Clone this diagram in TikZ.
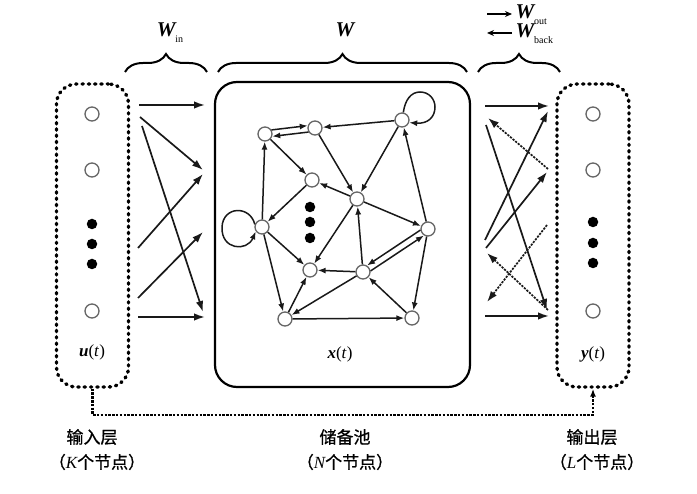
\documentclass[tikz,border=0pt]{standalone}
\usepackage{fontspec}
\setmainfont{Liberation Serif}
\newfontfamily\cjkfont[FakeBold=0.8]{Noto Sans CJK SC}
\usetikzlibrary{arrows.meta,decorations.pathreplacing}
\begin{document}
\begin{tikzpicture}[x=1pt,y=-1pt,
  arr/.style={-{Latex[length=8pt,width=6pt]},line width=1.5pt,draw=black!90},
  big/.style={-{Latex[length=11pt,width=7.5pt]},line width=1.7pt,draw=black!90},
  back/.style={big,dash pattern=on 2.2pt off 1.2pt},
  rnode/.style={circle,draw=black!60,line width=1.3pt,fill=white,minimum size=14pt,inner sep=0pt},
  dotn/.style={circle,fill=black,minimum size=10.5pt,inner sep=0pt},
  layerbox/.style={draw,line width=3.4pt,line cap=round,dash pattern=on 1.3pt off 5pt,rounded corners=20pt,minimum width=72pt,minimum height=303pt,inner sep=0pt},
  poolbox/.style={draw,line width=2.2pt,rounded corners=22pt,minimum width=255pt,minimum height=305pt,inner sep=0pt},
  bracestyle/.style={decorate,decoration={brace,amplitude=18pt},line width=2pt},
  fb/.style={-{Latex[length=8pt,width=6pt]},line width=2.2pt,dash pattern=on 2.5pt off 1.3pt},
  cjk/.style={font=\cjkfont\fontsize{17}{19}\selectfont},
  lab/.style={font=\fontsize{17}{20}\selectfont},
  wlab/.style={font=\fontsize{21}{24}\selectfont\bfseries\itshape},
  tinyarr/.style={-{Stealth[length=7pt,width=6pt]},line width=1.4pt},
]
\useasboundingbox (0,0) rectangle (697,494);

% layer boxes
\node[layerbox] (inbox) at (92.5,235.5) {};
\node[layerbox] (outbox) at (593,235.5) {};
\node[poolbox] (pool) at (342.5,234.5) {};

% input nodes
\node[rnode] (u1) at (92,114) {};
\node[rnode] (u2) at (92,170) {};
\node[dotn] (ud1) at (92,224) {};
\node[dotn] (ud2) at (92,244) {};
\node[dotn] (ud3) at (92,264) {};
\node[rnode] (u3) at (92,311) {};
\node[lab] (ul) at (92,352) {\textbf{\textit{u}}(\textit{t})};

% output nodes
\node[rnode] (y1) at (593,114) {};
\node[rnode] (y2) at (593,170) {};
\node[dotn] (yd1) at (593,222) {};
\node[dotn] (yd2) at (593,243) {};
\node[dotn] (yd3) at (593,263) {};
\node[rnode] (y3) at (593,311) {};
\node[lab] (yl) at (593,354) {\textbf{\textit{y}}(\textit{t})};

% reservoir nodes
\node[rnode] (A) at (265,134) {};
\node[rnode] (B) at (315,128) {};
\node[rnode] (C) at (402,120) {};
\node[rnode] (D) at (312,180) {};
\node[rnode] (E) at (357,199) {};
\node[rnode] (F) at (262,227) {};
\node[rnode] (G) at (428,229) {};
\node[rnode] (H) at (310,270) {};
\node[rnode] (I) at (363,272) {};
\node[rnode] (J) at (285,319) {};
\node[rnode] (K) at (412,318) {};
\node[dotn] (rd1) at (310,207) {};
\node[dotn] (rd2) at (310,222) {};
\node[dotn] (rd3) at (310,238) {};
\node[lab] (xl) at (340,354) {\textbf{\textit{x}}(\textit{t})};

% reservoir edges
\draw[arr] (A.32) -- (B.162);
\draw[arr] (B.212) -- (A.-18);
\draw[arr] (C) -- (B);
\draw[arr] (C.80) .. controls (405,100) and (411,92) .. (420,92)
                  .. controls (429,92) and (435,99) .. (435,107)
                  .. controls (435,117) and (428,124) .. (C.-20);
\draw[arr] (A) -- (D);
\draw[arr] (B) -- (E);
\draw[arr] (C) -- (E);
\draw[arr] (E) -- (D);
\draw[arr] (D) -- (F);
\draw[arr] (F) -- (A);
\draw[arr] (F.160) .. controls (250,205) and (223,206) .. (222,227)
                  .. controls (221,250) and (247,252) .. (F.215);
\draw[arr] (F) -- (H);
\draw[arr] (E) -- (H);
\draw[arr] (E) -- (G);
\draw[arr] (I) -- (E);
\draw[arr] (I) -- (H);
\draw[arr] (I.8.5) -- (G.238.5);
\draw[arr] (G.188.5) -- (I.58.5);
\draw[arr] (G) -- (C);
\draw[arr] (G) -- (K);
\draw[arr] (F) -- (J);
\draw[arr] (J) -- (H);
\draw[arr] (I) -- (J);
\draw[arr] (K) -- (I);
\draw[arr] (J) -- (K);

% input-side connectors
\coordinate (ia1) at (139,105);
\coordinate (ia2) at (140,117);
\coordinate (ia3) at (142,126);
\coordinate (ia4) at (138,248);
\coordinate (ia5) at (138,298);
\coordinate (ia6) at (138,317);
\coordinate (ib1) at (205,105);
\coordinate (ib2) at (203,170);
\coordinate (ib3) at (203,312);
\coordinate (ib4) at (203,174);
\coordinate (ib5) at (203,232);
\coordinate (ib6) at (205,317);
\draw[big] (ia1) -- (ib1);
\draw[big] (ia2) -- (ib2);
\draw[big] (ia3) -- (ib3);
\draw[big] (ia4) -- (ib4);
\draw[big] (ia5) -- (ib5);
\draw[big] (ia6) -- (ib6);

% output-side connectors
\coordinate (oa1) at (485,106);
\coordinate (oa2) at (486,125);
\coordinate (oa3) at (485,240);
\coordinate (oa4) at (486,248);
\coordinate (oa5) at (485,316);
\coordinate (ob1) at (549,106);
\coordinate (ob2) at (547,310);
\coordinate (ob3) at (548,111);
\coordinate (ob4) at (547,172);
\coordinate (ob5) at (549,316);
\draw[big] (oa1) -- (ob1);
\draw[big] (oa2) -- (ob2);
\draw[big] (oa3) -- (ob3);
\draw[big] (oa4) -- (ob4);
\draw[big] (oa5) -- (ob5);
\coordinate (bs1) at (548,169);
\coordinate (be1) at (488,118);
\coordinate (bs2) at (547,225);
\coordinate (be2) at (487,302);
\coordinate (bs3) at (548,310);
\coordinate (be3) at (487,253);
\draw[back] (bs1) -- (be1);
\draw[back] (bs2) -- (be2);
\draw[back] (bs3) -- (be3);

% feedback line
\draw[fb] (inbox.south) -- ++(0,26) -| (outbox.south);

% braces
\draw[bracestyle] (125,72) -- (207,72);
\draw[bracestyle] (218,72) -- (467,72);
\draw[bracestyle] (478,72) -- (560,72);

\node[wlab] (win) at (170,33) {W\raisebox{-0.6ex}{\normalfont\fontsize{10}{10}\selectfont in}};
\node[wlab] (wres) at (345,30) {W};
\node[wlab,anchor=west] (wout) at (512,15) {W\raisebox{-0.6ex}{\normalfont\fontsize{10}{10}\selectfont out}};
\node[wlab,anchor=west] (wback) at (512,34) {W\raisebox{-0.6ex}{\normalfont\fontsize{10}{10}\selectfont back}};
\coordinate (ta1) at (487,14);
\coordinate (tb1) at (512,14);
\coordinate (ta2) at (512,33);
\coordinate (tb2) at (487,33);
\draw[tinyarr] (ta1) -- (tb1);
\draw[tinyarr] (ta2) -- (tb2);

% bottom labels
\node[cjk] (l1) at (92,437) {输入层};
\node[cjk] (l2) at (97,462) {（{\rmfamily\itshape K}个节点）};
\node[cjk] (l3) at (345,437) {储备池};
\node[cjk] (l4) at (345,462) {（{\rmfamily\itshape N}个节点）};
\node[cjk] (l5) at (592,437) {输出层};
\node[cjk] (l6) at (597,462) {（{\rmfamily\itshape L}个节点）};
\end{tikzpicture}
\end{document}
